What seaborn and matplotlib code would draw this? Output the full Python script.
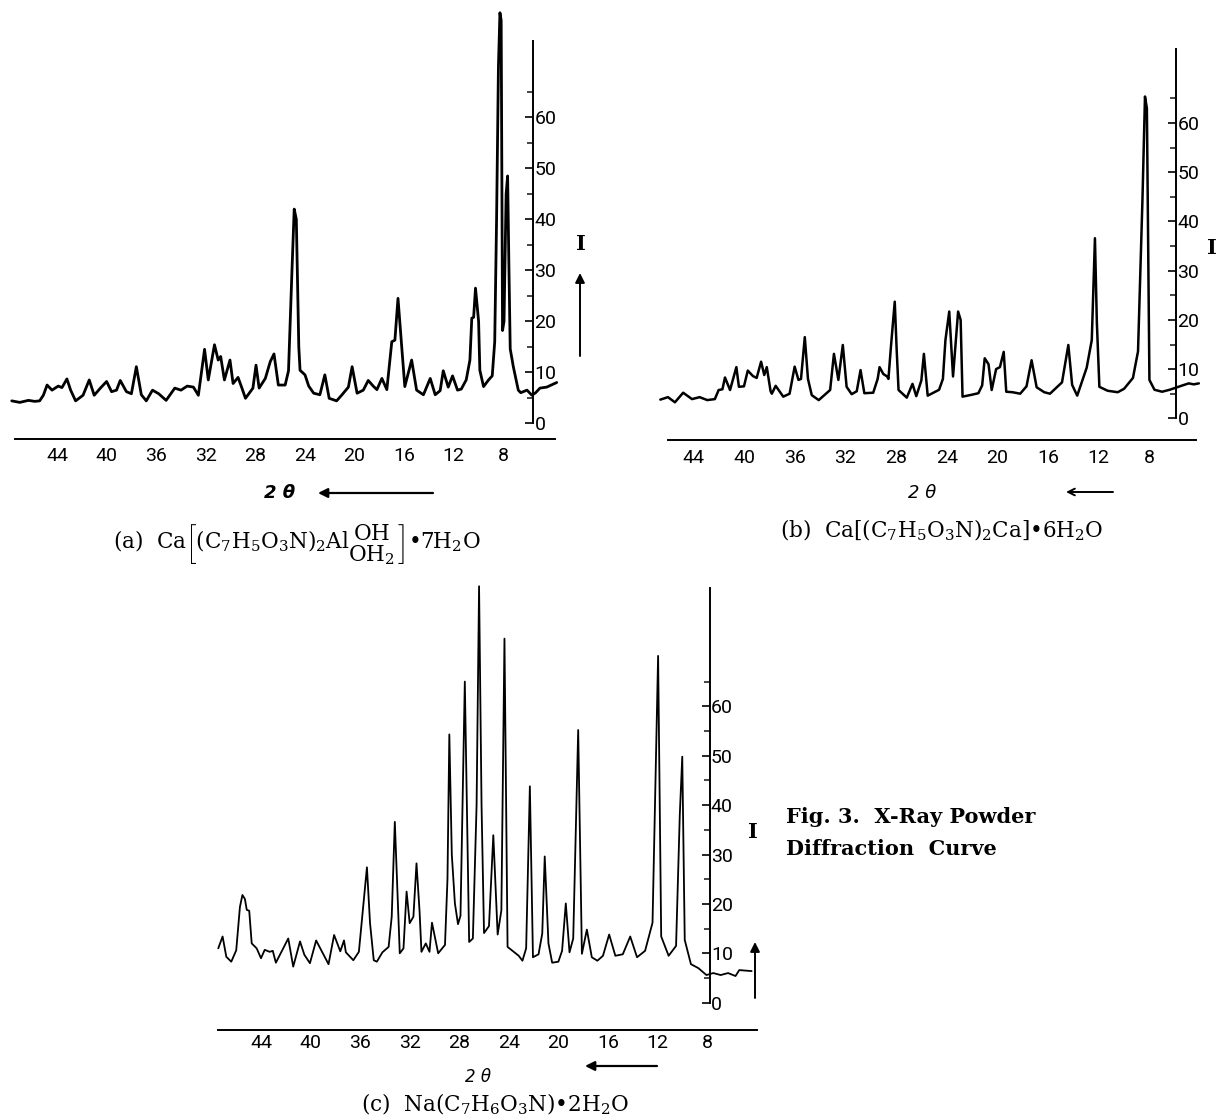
import numpy as np
import matplotlib
matplotlib.use("Agg")
import matplotlib.pyplot as plt
import seaborn as sns

# ---- data (2-theta in degrees, intensity I) ----
theta_a = [47.65, 47.0, 46.3, 45.8, 45.4, 45.1, 44.8, 44.4, 43.9, 43.6, 43.2, 42.9, 42.5, 41.9, 41.4,
           41.0, 40.5, 40.0, 39.6, 39.2, 38.9, 38.4, 38.0, 37.6, 37.2, 36.8, 36.3, 35.8, 35.2, 34.5,
           34.0, 33.5, 33.0, 32.6, 32.1, 31.8, 31.3, 31.0, 30.8, 30.5, 30.05, 29.8, 29.4, 29.1, 28.8,
           28.2, 27.95, 27.7, 27.2, 26.8, 26.5, 26.15, 25.6, 25.33, 25.05, 24.87, 24.7, 24.5, 24.4,
           24.0, 23.7, 23.3, 22.8, 22.4, 22.05, 21.45, 21.05, 20.5, 20.2, 19.8, 19.3, 18.9, 18.5,
           18.2, 17.8, 17.4, 17.0, 16.75, 16.5, 16.2, 15.95, 15.4, 15.0, 14.45, 13.9, 13.5, 13.1,
           12.85, 12.45, 12.1, 11.7, 11.4, 11.0, 10.7, 10.55, 10.4, 10.25, 10.0, 9.9, 9.6, 9.2, 8.9,
           8.7, 8.55, 8.4, 8.28, 8.18, 8.07, 7.95, 7.78, 7.66, 7.55, 7.45, 7.2, 6.8, 6.6, 6.1, 5.7,
           5.4, 5.05, 4.5, 3.7]
inten_a = [4.4, 4.1, 4.5, 4.3, 4.4, 5.5, 7.5, 6.5, 7.3, 7.0, 8.7, 6.5, 4.4, 5.5, 8.5,
           5.5, 6.9, 8.2, 6.2, 6.5, 8.4, 6.2, 5.8, 11.1, 5.6, 4.4, 6.5, 5.8, 4.5, 6.9,
           6.5, 7.3, 7.1, 5.5, 14.5, 8.5, 15.4, 12.4, 13.1, 8.5, 12.4, 7.8, 9.0, 7.0, 4.9,
           6.9, 11.4, 6.9, 8.8, 12.1, 13.6, 7.5, 7.5, 10.3, 30.0, 42.0, 40.0, 15.0, 10.4,
           9.5, 7.3, 5.9, 5.6, 9.5, 4.9, 4.4, 5.5, 7.1, 11.1, 5.9, 6.5, 8.4, 7.3,
           6.6, 8.8, 6.6, 16.0, 16.3, 24.5, 15.0, 7.2, 12.4, 6.5, 5.6, 8.8, 5.6, 6.4,
           10.3, 7.1, 9.3, 6.5, 6.7, 8.5, 12.4, 20.6, 20.8, 26.5, 20.0, 10.4, 7.2, 8.5, 9.3,
           16.0, 40.0, 70.0, 80.5, 79.0, 18.2, 20.0, 45.0, 48.5, 30.0, 14.6, 11.1, 6.5, 6.0, 6.5, 5.5,
           6.0, 6.9, 7.1, 8.0]

theta_b = [46.6, 46.0, 45.45, 44.8, 44.1, 43.5, 42.9, 42.3, 42.0, 41.7, 41.5, 41.1, 40.6, 40.4, 40.0,
           39.7, 39.3, 39.0, 38.65, 38.4, 38.2, 37.9, 37.8, 37.5, 36.9, 36.4, 36.0, 35.7, 35.5, 35.2,
           34.95, 34.65, 34.1, 33.2, 32.9, 32.55, 32.2, 31.9, 31.5, 31.1, 30.8, 30.5, 29.8, 29.45,
           29.3, 29.0, 28.7, 28.6, 28.4, 28.1, 27.95, 27.8, 27.15, 26.7, 26.4, 26.0, 25.8, 25.5,
           24.6, 24.3, 24.1, 23.8, 23.5, 23.1, 22.9, 22.75, 22.0, 21.5, 21.2, 21.0, 20.7, 20.45,
           20.1, 19.8, 19.5, 19.3, 18.8, 18.2, 17.7, 17.3, 16.9, 16.3, 15.85, 14.9, 14.4, 14.1,
           13.7, 12.95, 12.55, 12.3, 12.15, 11.95, 11.3, 10.5, 10.0, 9.3, 8.9, 8.55, 8.35, 8.2,
           8.0, 7.6, 7.0, 6.4, 5.6, 4.9, 4.5, 4.1]
inten_b = [3.8, 4.3, 3.25, 5.2, 3.9, 4.3, 3.7, 3.9, 5.75, 5.9, 8.3, 5.75, 10.4, 6.4, 6.5,
           9.7, 8.6, 8.2, 11.5, 8.8, 10.4, 5.5, 5.0, 6.6, 4.4, 5.0, 10.5, 7.8, 8.0, 16.5,
           8.0, 4.7, 3.7, 5.75, 13.1, 7.8, 14.9, 6.4, 4.9, 5.5, 9.8, 5.1, 5.2, 8.0,
           10.4, 9.0, 8.5, 8.0, 14.6, 23.7, 14.0, 5.75, 4.2, 7.0, 4.5, 7.7, 13.1, 4.6,
           5.8, 8.0, 15.9, 21.7, 8.5, 21.7, 20.0, 4.4, 4.8, 5.1, 6.7, 12.2, 11.0, 5.75,
           10.0, 10.4, 13.5, 5.4, 5.3, 5.0, 6.5, 11.8, 6.3, 5.3, 5.0, 7.3, 14.9, 6.8,
           4.6, 10.3, 15.9, 36.6, 19.6, 6.4, 5.6, 5.3, 6.0, 8.2, 13.6, 44.4, 65.4, 63.0,
           7.8, 5.8, 5.4, 5.8, 6.5, 7.1, 6.9, 7.1]

theta_c = [47.45, 47.1, 46.8, 46.4, 46.0, 45.7, 45.5, 45.3, 45.15, 44.95, 44.75, 44.35, 44.0, 43.7,
           43.3, 43.05, 42.8, 41.8, 41.4, 40.85, 40.5, 40.05, 39.55, 38.55, 38.1, 37.6, 37.3, 37.15,
           36.55, 36.1, 35.45, 35.2, 34.9, 34.65, 34.2, 33.7, 33.45, 33.2, 32.8, 32.5, 32.25, 32.0,
           31.7, 31.45, 31.2, 31.05, 30.7, 30.4, 30.2, 29.7, 29.15, 28.95, 28.8, 28.6, 28.35, 28.1,
           27.9, 27.55, 27.2, 26.9, 26.6, 26.4, 26.2, 26.0, 25.6, 25.25, 24.9, 24.6, 24.35, 24.1,
           23.7, 23.2, 22.9, 22.6, 22.3, 22.05, 21.6, 21.3, 21.1, 20.8, 20.5, 20.0, 19.7, 19.4,
           19.1, 18.8, 18.4, 18.1, 17.7, 17.3, 16.85, 16.4, 15.9, 15.4, 14.8, 14.2, 13.65, 13.0,
           12.4, 11.95, 11.7, 11.1, 10.5, 10.2, 10.0, 9.8, 9.3, 8.7, 8.05, 7.5, 6.9, 6.3, 5.7,
           5.4, 4.4]
inten_c = [11.0, 13.4, 9.3, 8.3, 10.6, 19.4, 21.8, 21.0, 18.8, 18.6, 12.0, 11.0, 9.0, 10.7,
           10.3, 10.5, 8.1, 13.0, 7.3, 12.4, 9.7, 8.0, 12.6, 7.8, 13.7, 10.4, 12.6, 10.2,
           8.6, 10.3, 27.4, 16.1, 8.6, 8.3, 10.2, 11.3, 17.4, 36.6, 10.0, 11.0, 22.5, 16.1,
           17.4, 28.2, 18.4, 10.3, 12.0, 10.3, 16.2, 10.0, 11.7, 25.0, 54.3, 30.0, 20.1, 15.9,
           17.6, 65.0, 12.3, 13.0, 40.0, 84.3, 40.0, 14.1, 15.5, 33.9, 13.8, 18.7, 73.7, 11.3,
           10.5, 9.5, 8.5, 11.0, 43.8, 9.2, 9.8, 14.0, 29.6, 12.0, 8.1, 8.3, 10.5, 20.1,
           10.2, 13.0, 55.2, 9.9, 14.8, 9.2, 8.5, 9.5, 13.8, 9.5, 9.8, 13.4, 9.2, 10.5,
           16.2, 70.2, 13.4, 9.5, 11.5, 38.0, 49.8, 12.7, 7.8, 7.0, 5.6, 6.0, 5.6, 6.0, 5.4,
           6.6, 6.4]

x_major = [44, 40, 36, 32, 28, 24, 20, 16, 12, 8]
x_minor = [46, 42, 38, 34, 30, 26, 22, 18, 14, 10]
y_major = [0, 10, 20, 30, 40, 50, 60]
y_minor = [5, 15, 25, 35, 45, 55, 65]

caption_a = (r"(a)  Ca$\left[(\mathrm{C_7H_5O_3N})_2\mathrm{Al}"
             r"\genfrac{}{}{0}{0}{\mathrm{OH}}{\mathrm{OH_2}}\right]$•7H$_2$O")
caption_b = r"(b)  Ca[(C$_7$H$_5$O$_3$N)$_2$Ca]•6H$_2$O"
caption_c = r"(c)  Na(C$_7$H$_6$O$_3$N)•2H$_2$O"

# ---- style ----
sns.set_style("white")
plt.rcParams["font.family"] = ["Roboto", "DejaVu Sans"]
plt.rcParams["text.color"] = "black"
plt.rcParams["mathtext.fontset"] = "custom"
plt.rcParams["mathtext.rm"] = "DejaVu Serif"
plt.rcParams["mathtext.it"] = "DejaVu Serif:italic"
plt.rcParams["mathtext.default"] = "regular"

W, H = 1221, 1117
fig = plt.figure(figsize=(W / 100, H / 100), dpi=100)
fig.patch.set_facecolor("white")


def panel(theta, inten, lw, x44, ppd, y0, ppu, tlim, ilim, xaxis_at, xbounds, yaxis_at, ytop, xpad):
    # place an axes so that 2theta / I land on the same pixels as the scan
    left = x44 + (44 - tlim[0]) * ppd
    right = x44 + (44 - tlim[1]) * ppd
    top = y0 - ilim[1] * ppu
    bottom = y0 - ilim[0] * ppu
    ax = fig.add_axes([left / W, 1 - bottom / H, (right - left) / W, (bottom - top) / H])
    sns.lineplot(x=theta, y=inten, ax=ax, color="black", linewidth=lw,
                 sort=False, estimator=None)
    for ln in ax.lines:
        ln.set_clip_on(False)
        ln.set_solid_joinstyle("round")
    ax.set_xlim(tlim)
    ax.set_ylim(ilim)
    ax.patch.set_alpha(0)
    ax.set_xlabel("")
    ax.set_ylabel("")

    for s in ["top", "left"]:
        ax.spines[s].set_visible(False)
    ax.spines["bottom"].set_position(("data", xaxis_at))
    ax.spines["bottom"].set_bounds(*xbounds)
    ax.spines["right"].set_position(("data", yaxis_at))
    ax.spines["right"].set_bounds(0, ytop)
    for s in ["bottom", "right"]:
        ax.spines[s].set_linewidth(1.4)
        ax.spines[s].set_color("black")

    ax.set_xticks(x_major)
    ax.set_xticks(x_minor, minor=True)
    ax.set_xticklabels([str(v) for v in x_major])
    ax.yaxis.tick_right()
    ax.set_yticks(y_major)
    ax.set_yticks(y_minor, minor=True)
    ax.set_yticklabels([str(v) for v in y_major])
    ax.tick_params(axis="x", which="major", direction="in", length=6, width=1.2,
                   labelsize=14, pad=xpad, colors="black")
    ax.tick_params(axis="x", which="minor", direction="in", length=3, width=1.2)
    ax.tick_params(axis="y", which="major", direction="in", length=6, width=1.2,
                   labelsize=14, pad=1, colors="black", left=False, right=True)
    ax.tick_params(axis="y", which="minor", direction="in", length=4, width=1.2,
                   left=False, right=True)
    return ax


ax_a = panel(theta_a, inten_a, 2.0, 57, 12.4, 423.3, 5.1, (48.5, 3.0), (-8, 83),
             -3.1, (47.4, 3.8), 5.6, 75, 6)
ax_b = panel(theta_b, inten_b, 1.8, 693.3, 12.67, 418.3, 4.92, (48, 2.5), (-8, 85),
             -4.5, (46.0, 4.3), 5.9, 75, 6)
ax_c = panel(theta_c, inten_c, 1.3, 261, 12.39, 1002.7, 4.94, (48, 3), (-8, 86),
             -5.5, (47.5, 4.0), 7.8, 84, 3)


def fp(px, py):
    return (px, H - py)


def arrow(x0, y0, x1, y1, lw=1.4, style="-|>", ms=14):
    ax_a.annotate("", xy=fp(x1, y1), xytext=fp(x0, y0), xycoords="figure pixels",
                  textcoords="figure pixels", annotation_clip=False,
                  arrowprops=dict(arrowstyle=style, lw=lw, color="black",
                                  mutation_scale=ms, shrinkA=0, shrinkB=0))


serif = ["DejaVu Serif"]
# intensity labels and arrows
fig.text(581 / W, 1 - 244 / H, "I", family=serif, fontweight="bold", fontsize=15,
         ha="center", va="center")
arrow(580, 356, 580, 273)
fig.text(1212 / W, 1 - 248 / H, "I", family=serif, fontweight="bold", fontsize=15,
         ha="center", va="center")
fig.text(753 / W, 1 - 832 / H, "I", family=serif, fontweight="bold", fontsize=15,
         ha="center", va="center")
arrow(755, 998, 755, 942)

# 2-theta labels and arrows
fig.text(280 / W, 1 - 493 / H, "2 θ", fontstyle="italic", fontweight="bold",
         fontsize=13, ha="center", va="center", family=["DejaVu Sans"])
arrow(433, 493, 318, 493, lw=1.6)
fig.text(922 / W, 1 - 493 / H, "2 θ", fontstyle="italic", fontsize=13,
         ha="center", va="center", family=["DejaVu Sans"])
arrow(1113, 492, 1066, 492, style="->", ms=12)
fig.text(478 / W, 1 - 1077 / H, "2 θ", fontstyle="italic", fontsize=12,
         ha="center", va="center", family=["DejaVu Sans"])
arrow(657, 1066, 585, 1066, lw=1.6)

# captions
fig.text(297 / W, 1 - 545 / H, caption_a, family=serif, fontsize=15.5,
         ha="center", va="center", color="black")
fig.text(942 / W, 1 - 530 / H, caption_b, family=serif, fontsize=15.5,
         ha="center", va="center", color="black")
fig.text(495 / W, 1 - 1104 / H, caption_c, family=serif, fontsize=15.5,
         ha="center", va="center", color="black")
fig.text(786 / W, 1 - 817 / H, "Fig. 3.  X-Ray Powder", family=serif, fontsize=15,
         fontweight="bold", ha="left", va="center", color="black")
fig.text(786 / W, 1 - 849 / H, "Diffraction  Curve", family=serif, fontsize=15,
         fontweight="bold", ha="left", va="center", color="black")

fig.savefig("out.png", dpi=100, facecolor="white")
